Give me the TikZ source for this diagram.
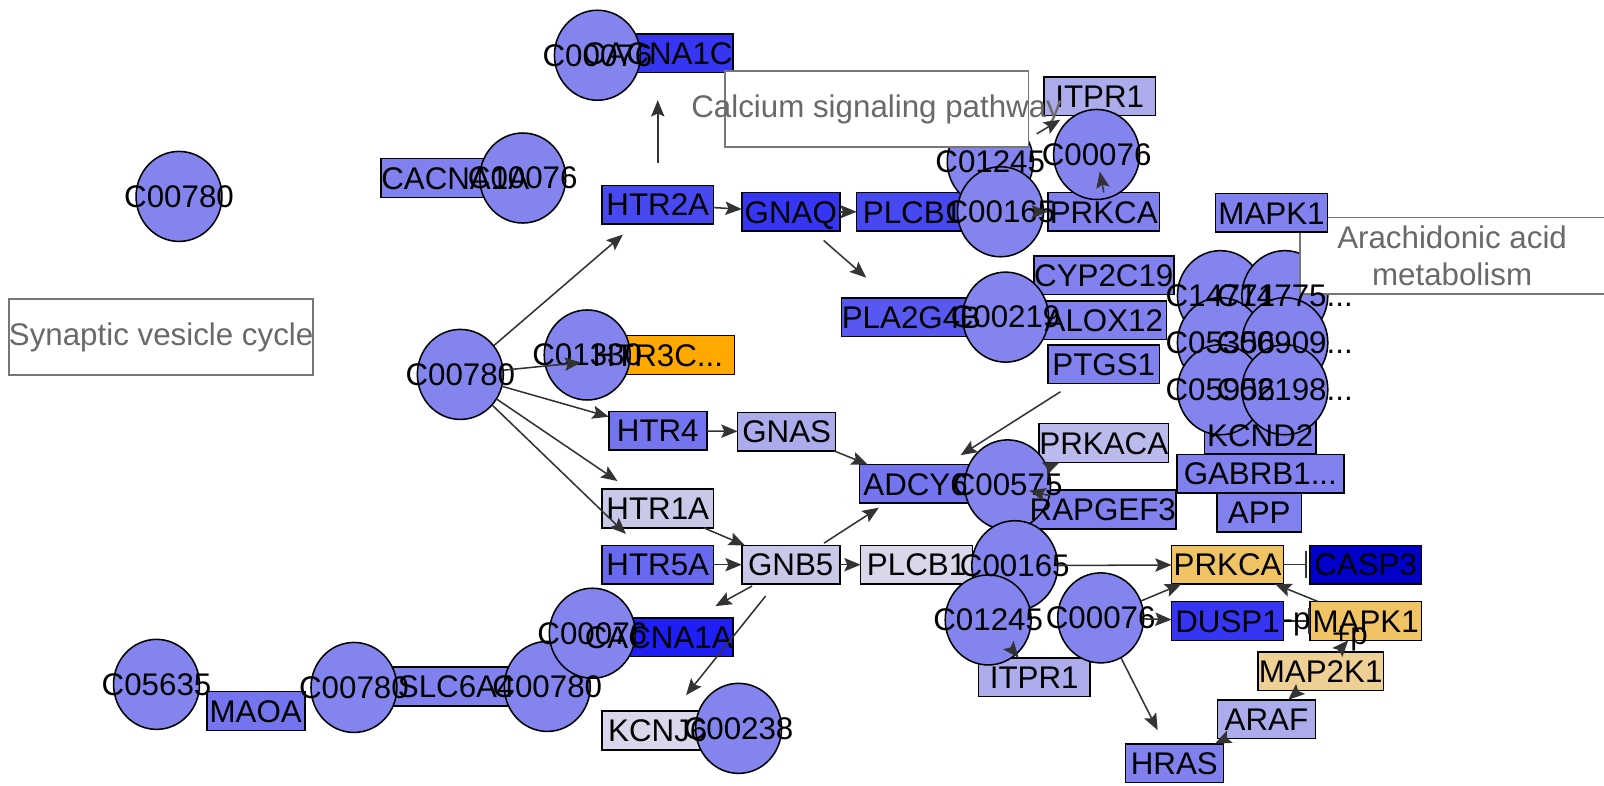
\documentclass[tikz,border=0pt]{standalone}
\usepackage{fontspec}
\setmainfont{Liberation Sans}
\usepackage{xcolor}
\usepackage{tikz}
\usetikzlibrary{arrows.meta, shapes.geometric}
\definecolor{cpdfill}{RGB}{132,132,238}
\definecolor{edgegray}{RGB}{51,51,51}
\definecolor{pathgray}{RGB}{105,105,105}
\definecolor{framegray}{RGB}{118,118,118}
\definecolor{lvA}{RGB}{216,216,234}
\definecolor{lvB}{RGB}{200,200,232}
\definecolor{lvC}{RGB}{186,186,236}
\definecolor{lvD}{RGB}{172,172,236}
\definecolor{lvE}{RGB}{128,128,238}
\definecolor{lvF}{RGB}{116,116,238}
\definecolor{bluA}{RGB}{104,104,240}
\definecolor{bluB}{RGB}{88,88,240}
\definecolor{bluC}{RGB}{72,72,240}
\definecolor{bluD}{RGB}{54,54,242}
\definecolor{bluE}{RGB}{30,30,245}
\definecolor{bluF}{RGB}{0,0,200}
\definecolor{orA}{RGB}{240,195,100}
\definecolor{orB}{RGB}{238,208,150}
\definecolor{orC}{RGB}{255,168,0}
\newcommand{\cid}[1]{\makebox[0pt]{#1}}
\pgfdeclarelayer{boxes}
\pgfdeclarelayer{shapes}
\pgfsetlayers{boxes,shapes,main}

\begin{document}
\begin{tikzpicture}[
  x=0.5pt, y=-0.5pt,
  font=\fontsize{15.3}{18}\selectfont,
  gene/.style={rectangle, minimum width={(20.5+6.75*#1)*1pt}, minimum height=18.5pt,
               inner sep=0pt, text height=11pt, text depth=0pt},
  cpd/.style={ellipse, minimum width=42pt, minimum height=44pt, inner sep=0pt},
  pathway/.style={minimum width=148pt, minimum height=36.5pt, inner sep=0pt,
                  text=pathgray, align=center},
  genebox/.style={draw=black, line width=0.75pt},
  cpdshape/.style={draw=black, line width=0.75pt, fill=cpdfill},
  pathbox/.style={draw=framegray, line width=0.85pt, fill=white},
  arr/.style={draw=edgegray, line width=0.75pt, -{Stealth[length=8pt, width=6.5pt, inset=1.5pt]}},
  inh/.style={draw=edgegray, line width=0.75pt, -{Bar[width=13pt, line width=1pt]}},
  elabel/.style={inner sep=0pt, text height=11pt, text depth=3pt}
]
\useasboundingbox (0,0) rectangle (1568,768);

% gene products
\node[gene=7] (cacna1c) at (643,52)   {CACNA1C};
\node[gene=7] (cacna1a) at (445,174)  {CACNA1A};
\node[gene=5] (htr2a)   at (643,200)  {HTR2A};
\node[gene=4] (gnaq)    at (773,207)  {GNAQ};
\node[gene=5] (plcb)    at (892,207)  {PLCB1};
\node[gene=7] (pla2g4b) at (891,310)  {PLA2G4B};
\node[gene=5] (itpr1a)  at (1075,94)  {ITPR1};
\node[gene=5] (prkcaa)  at (1079,207) {PRKCA};
\node[gene=5] (mapk1a)  at (1243,208) {MAPK1};
\node[gene=7] (cyp2c19) at (1079,269) {CYP2C19};
\node[gene=6] (alox12)  at (1079,313) {ALOX12};
\node[gene=5] (ptgs1)   at (1079,356) {PTGS1};
\node[gene=5] (kcnd2)   at (1232,425) {KCND2};
\node[gene=9] (gabrb1)  at (1232,463) {GABRB1...};
\node[gene=3] (app)     at (1231,501) {APP};
\node[gene=6] (prkaca)  at (1079,433) {PRKACA};
\node[gene=7] (rapgef3) at (1078,498) {RAPGEF3};
\node[gene=5] (adcy6)   at (895,473)  {ADCY6};
\node[gene=8] (htr3c)   at (643,347)  {HTR3C...};
\node[gene=4] (htr4)    at (643,421)  {HTR4};
\node[gene=4] (gnas)    at (769,422)  {GNAS};
\node[gene=5] (htr1a)   at (643,497)  {HTR1A};
\node[gene=5] (htr5a)   at (643,552)  {HTR5A};
\node[gene=4] (gnb5)    at (773,552)  {GNB5};
\node[gene=5] (plcb1)   at (896,552)  {PLCB1};
\node[gene=5] (itpr1b)  at (1011,662) {ITPR1};
\node[gene=7] (cacna1b) at (644,623)  {CACNA1A};
\node[gene=6] (slc6a4)  at (446,671)  {SLC6A4};
\node[gene=4] (maoa)    at (250,695)  {MAOA};
\node[gene=5] (kcnj)    at (643,714)  {KCNJ6};
\node[gene=5] (prkcab)  at (1200,552) {PRKCA};
\node[gene=5] (casp3)   at (1335,552) {CASP3};
\node[gene=5] (dusp1)   at (1200,607) {DUSP1};
\node[gene=5] (mapk1b)  at (1335,607) {MAPK1};
\node[gene=6] (map2k1)  at (1291,656) {MAP2K1};
\node[gene=4] (araf)    at (1238,703) {ARAF};
\node[gene=4] (hras)    at (1148,746) {HRAS};

% compounds
\node[cpd] (c00780a) at (175,192)  {\cid{C00780}};
\node[cpd] (c00076a) at (511,174)  {\cid{C00076}};
\node[cpd] (c00076b) at (584,54)   {\cid{C00076}};
\node[cpd] (c00780b) at (450,366)  {\cid{C00780}};
\node[cpd] (c01330)  at (574,347)  {\cid{C01330}};
\node[cpd] (c01245a) at (968,158)  {\cid{C01245}};
\node[cpd] (c00076c) at (1072,151) {\cid{C00076}};
\node[cpd] (c00165a) at (978,207)  {\cid{C00165}};
\node[cpd] (c00219)  at (983,310)  {\cid{C00219}};
\node[cpd] (k1) at (1193,289) {\cid{C14771}};
\node[cpd] (k2) at (1256,289) {\cid{C14775...}};
\node[cpd] (k3) at (1193,335) {\cid{C05356}};
\node[cpd] (k4) at (1256,335) {\cid{C00909...}};
\node[cpd] (k5) at (1193,381) {\cid{C05956}};
\node[cpd] (k6) at (1256,381) {\cid{C02198...}};
\node[cpd] (c00575)  at (985,474)  {\cid{C00575}};
\node[cpd] (c00165b) at (992,553)  {\cid{C00165}};
\node[cpd] (c01245b) at (966,606)  {\cid{C01245}};
\node[cpd] (c00076d) at (1076,604) {\cid{C00076}};
\node[cpd] (c00780c) at (535,671)  {\cid{C00780}};
\node[cpd] (c00076e) at (579,619)  {\cid{C00076}};
\node[cpd] (c00780d) at (346,672)  {\cid{C00780}};
\node[cpd] (c05635)  at (153,669)  {\cid{C05635}};
\node[cpd] (c00238)  at (722,712)  {\cid{C00238}};

% linked pathways
\node[pathway] (calcium)  at (857,106.5)  {\cid{Calcium signaling pathway}};
\node[pathway] (synaptic) at (157.5,329.5) {\cid{Synaptic vesicle cycle}};
\node[pathway, minimum width=148.5pt, minimum height=37pt] (arachidonic) at (1419.5,250)
  {Arachidonic acid\\metabolism};

\begin{pgfonlayer}{boxes}
  \fill[white] (0,0) rectangle (1568,768);
  \foreach \n/\c in {cacna1c/bluD, cacna1a/lvE, htr2a/bluC, gnaq/bluD, plcb/bluC,
      pla2g4b/bluB, itpr1a/lvD, prkcaa/lvE, cyp2c19/lvE, alox12/lvE, ptgs1/lvE,
      kcnd2/lvE, gabrb1/lvE, app/lvE, prkaca/lvC, rapgef3/lvE, adcy6/lvF, htr3c/orC,
      htr4/lvF, gnas/lvD, htr1a/lvB, htr5a/bluA, gnb5/lvB, plcb1/lvA, itpr1b/lvD,
      cacna1b/bluE, slc6a4/lvE, maoa/lvF, kcnj/lvA, prkcab/orA, casp3/bluF,
      dusp1/bluD, mapk1b/orA, map2k1/orB, araf/lvD, hras/lvE}
    \draw[genebox, fill=\c] (\n.south west) rectangle (\n.north east);
\end{pgfonlayer}

\begin{pgfonlayer}{shapes}
  \foreach \n in {c00780a, c00076a, c00076b, c00780b, c01330, c01245a, c00076c,
      c00165a, c00219, k1, k2, k3, k4, k5, k6, c00575, c00165b, c01245b, c00076d,
      c00780c, c00076e, c00780d, c05635, c00238}
    \draw[cpdshape] (\n.center) ellipse [x radius=21pt, y radius=22pt];
  \foreach \n in {calcium, synaptic, arachidonic}
    \draw[pathbox] (\n.south west) rectangle (\n.north east);
  \draw[genebox, fill=lvE] (mapk1a.south west) rectangle (mapk1a.north east);
\end{pgfonlayer}

% relations
\draw[arr, shorten >=8pt] (c00780b) -- (htr2a);
\draw[arr, shorten <=11pt, shorten >=13.5pt] (htr2a.north) -- (cacna1c.south);
\draw[arr] (htr2a) -- (gnaq);
\draw[arr] (gnaq) -- (plcb);
\draw[arr, shorten <=7pt, shorten >=15pt] (gnaq) -- (pla2g4b);
\draw[arr] (c00165a) -- (prkcaa);
\draw[arr, shorten >=8.5pt] (prkcaa.north) -- (c00076c.center);
\draw[arr, shorten <=5pt, shorten >=4pt] (c01245a) -- (itpr1a);
\draw[arr] (c00780b) -- (htr3c);
\draw[arr] (c00780b) -- (htr4);
\draw[arr, shorten >=7pt] (c00780b) -- (htr1a);
\draw[arr, shorten >=8pt] (c00780b) -- (htr5a);
\draw[arr] (htr4) -- (gnas);
\draw[arr] (gnas) -- (adcy6);
\draw[arr] (htr1a) -- (gnb5);
\draw[arr] (htr5a) -- (gnb5);
\draw[arr, shorten <=2pt, shorten >=4pt] (gnb5) -- (adcy6);
\draw[arr] (gnb5) -- (plcb1);
\draw[arr, shorten <=2pt, shorten >=12pt] (gnb5) -- (cacna1b);
\draw[arr, shorten <=7.5pt, shorten >=10pt] (gnb5) -- (kcnj);
\draw[arr, shorten <=7.5pt, shorten >=8.5pt] (ptgs1) -- (adcy6);
\draw[arr] (c00575) -- (prkaca);
\draw[arr] (c00575) -- (rapgef3);
\draw[arr] (c00165b) -- (prkcab);
\draw[inh, shorten >=1.5pt] (prkcab) -- (casp3);
\draw[arr] (c00076d) -- (prkcab);
\draw[arr] (c00076d) -- (dusp1);
\draw[arr] (mapk1b) -- (prkcab);
\draw[inh] (dusp1) -- node[elabel] (lbl1) {-p} (mapk1b);
\draw[arr] (map2k1) -- node[elabel, xshift=3.3pt, yshift=4.5pt] (lbl2) {+p} (mapk1b);
\draw[arr] (map2k1) -- (araf);
\draw[arr] (araf) -- (hras);
\draw[arr, shorten >=7.5pt] (c00076d) -- (hras);
\draw[arr] (c01245b) -- (itpr1b);
\end{tikzpicture}
\end{document}
